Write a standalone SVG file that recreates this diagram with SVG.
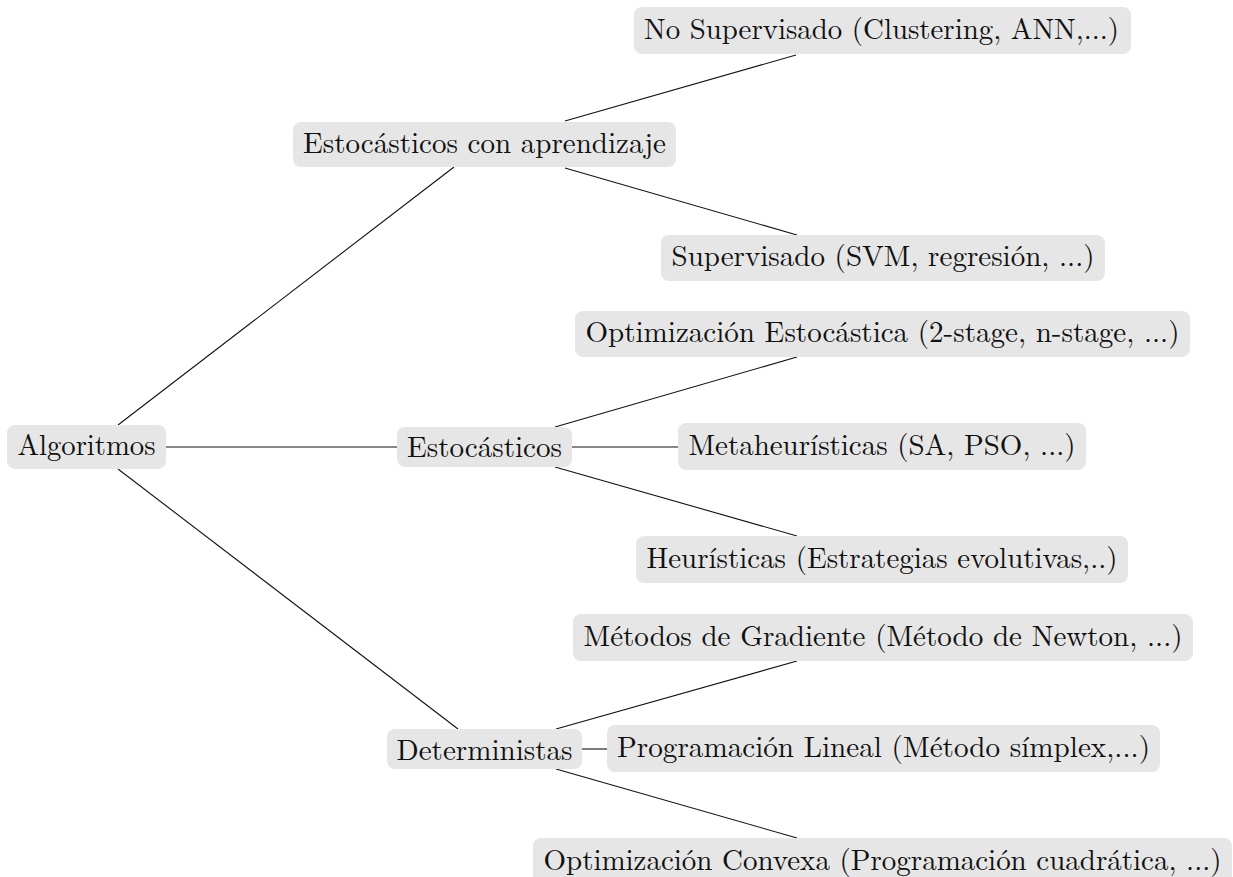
<svg xmlns="http://www.w3.org/2000/svg" width="1233" height="877" viewBox="0 0 1233 877">
  <style>
    .box { fill: #e6e6e6; stroke: none; }
    .lbl { font-family: 'Latin Modern Roman', 'LM Roman 10', 'DejaVu Serif', serif; font-size: 29px; fill: #111; text-anchor: middle; }
    .edge { stroke: #111; stroke-width: 1.1; fill: none; }
  </style>
  <rect width="1233" height="877" fill="#ffffff"/>

  <!-- tree connectors -->
  <g id="connectors">
    <line class="edge" x1="118" y1="425" x2="454" y2="167"/>
    <line class="edge" x1="166" y1="447" x2="397" y2="447"/>
    <line class="edge" x1="118" y1="469" x2="458" y2="729"/>
    <line class="edge" x1="565" y1="121" x2="796" y2="55"/>
    <line class="edge" x1="565" y1="168" x2="797" y2="235"/>
    <line class="edge" x1="555" y1="427" x2="797" y2="357"/>
    <line class="edge" x1="572" y1="447" x2="678" y2="447"/>
    <line class="edge" x1="555" y1="467" x2="797" y2="536"/>
    <line class="edge" x1="556" y1="729" x2="797" y2="661"/>
    <line class="edge" x1="582" y1="749" x2="607" y2="749"/>
    <line class="edge" x1="556" y1="769" x2="797" y2="838"/>
  </g>

  <g id="n-algoritmos">
    <rect class="box" x="7" y="425" width="159" height="44" rx="8"/>
    <text class="lbl" x="86.5" y="455" textLength="138" lengthAdjust="spacingAndGlyphs">Algoritmos</text>
  </g>
  <g id="n-estocasticos-aprendizaje">
    <rect class="box" x="293" y="122" width="383" height="45" rx="8"/>
    <text class="lbl" x="484.5" y="153" textLength="363" lengthAdjust="spacingAndGlyphs">Estocásticos con aprendizaje</text>
  </g>
  <g id="n-no-supervisado">
    <rect class="box" x="634" y="7" width="497" height="47" rx="8"/>
    <text class="lbl" x="881.5" y="39" textLength="475" lengthAdjust="spacingAndGlyphs">No Supervisado (Clustering, ANN,...)</text>
  </g>
  <g id="n-supervisado">
    <rect class="box" x="661" y="235" width="444" height="46" rx="8"/>
    <text class="lbl" x="883" y="266" textLength="423" lengthAdjust="spacingAndGlyphs">Supervisado (SVM, regresión, ...)</text>
  </g>
  <g id="n-optimizacion-estocastica">
    <rect class="box" x="575" y="311" width="615" height="46" rx="8"/>
    <text class="lbl" x="882.5" y="342" textLength="594" lengthAdjust="spacingAndGlyphs">Optimización Estocástica (2-stage, n-stage, ...)</text>
  </g>
  <g id="n-estocasticos">
    <rect class="box" x="397" y="427" width="175" height="40" rx="8"/>
    <text class="lbl" x="484.5" y="457" textLength="155" lengthAdjust="spacingAndGlyphs">Estocásticos</text>
  </g>
  <g id="n-metaheuristicas">
    <rect class="box" x="678" y="423" width="408" height="47" rx="8"/>
    <text class="lbl" x="882" y="455" textLength="387" lengthAdjust="spacingAndGlyphs">Metaheurísticas (SA, PSO, ...)</text>
  </g>
  <g id="n-heuristicas">
    <rect class="box" x="636" y="536" width="492" height="47" rx="8"/>
    <text class="lbl" x="882" y="568" textLength="471" lengthAdjust="spacingAndGlyphs">Heurísticas (Estrategias evolutivas,..)</text>
  </g>
  <g id="n-metodos-gradiente">
    <rect class="box" x="573" y="614" width="620" height="47" rx="8"/>
    <text class="lbl" x="883" y="646" textLength="599" lengthAdjust="spacingAndGlyphs">Métodos de Gradiente (Método de Newton, ...)</text>
  </g>
  <g id="n-deterministas">
    <rect class="box" x="387" y="729" width="195" height="40" rx="8"/>
    <text class="lbl" x="484.5" y="760" textLength="176" lengthAdjust="spacingAndGlyphs">Deterministas</text>
  </g>
  <g id="n-programacion-lineal">
    <rect class="box" x="607" y="725" width="553" height="47" rx="8"/>
    <text class="lbl" x="883.5" y="757" textLength="533" lengthAdjust="spacingAndGlyphs">Programación Lineal (Método símplex,...)</text>
  </g>
  <g id="n-optimizacion-convexa">
    <rect class="box" x="533" y="838" width="699" height="47" rx="8"/>
    <text class="lbl" x="882.5" y="870" textLength="678" lengthAdjust="spacingAndGlyphs">Optimización Convexa (Programación cuadrática, ...)</text>
  </g>
</svg>
